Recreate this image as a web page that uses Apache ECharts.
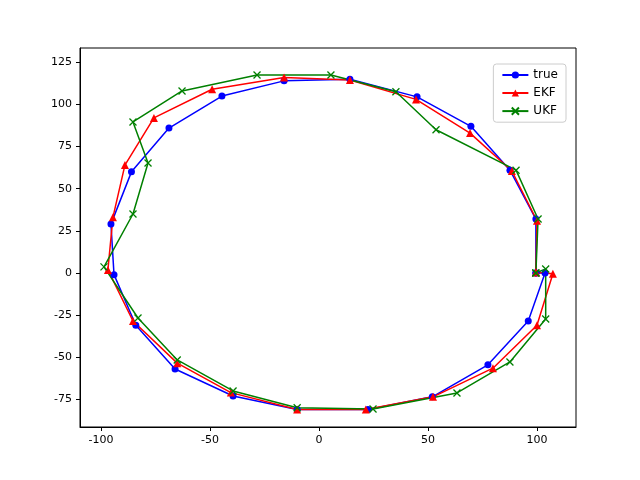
<!DOCTYPE html>
<html><head><meta charset="utf-8">
<script src="https://cdn.jsdelivr.net/npm/echarts@6/dist/echarts.min.js"></script>
<style>html,body{margin:0;background:#fff}#c{width:640px;height:480px}</style>
</head><body><div id="c"></div>
<script>
const trueX=[99.5,99.5,87.6,69.7,45,14.2,-16,-44.5,-68.8,-86,-95.4,-94,-84,-66,-39.4,-10,22.5,52,77.5,96,103.7,99.5];
const trueY=[0,32,61,87,104.5,115,114,105,86,60,29,-1,-31,-57,-73,-81,-81,-73.5,-54.5,-28.5,0,0];
const ekfX=[99.5,100,88.5,69.3,44.5,14.2,-16,-49,-75.7,-89,-94.5,-96.8,-85.3,-65,-40.4,-10,21.5,52.3,79.8,100,107.3,99.5];
const ekfY=[0.5,31,60.5,83,103,114.5,116,109,92,64,33,1.8,-28.5,-53.5,-71,-81,-81,-73.5,-56.5,-31,-0.5,0.5];
const ukfX=[99.5,100.5,90.4,53.7,35.3,5.5,-28.4,-62.8,-85.3,-78.4,-85.3,-98.6,-83,-65,-39.4,-10,24.8,63.3,87.6,104,104,99.5];
const ukfY=[0,32,61,85,107.5,117.5,117.5,108,89.6,65.3,35,3.6,-26.7,-51.6,-70,-80,-80.7,-71.2,-52.8,-27.3,2.4,0];
const zip=(a,b)=>a.map((v,i)=>[v,b[i]]);
const xt=[-100,-50,0,50,100], yt=[-75,-50,-25,0,25,50,75,100,125];
const ax=(cv)=>({axisLine:{onZero:false,lineStyle:{color:'#000'}},axisTick:{lineStyle:{color:'#000'},length:4,customValues:cv},axisLabel:{color:'#000',fontSize:11,fontFamily:'DejaVu Sans',customValues:cv},splitLine:{show:false}});
const mk=(name,d,color,sym,sz,extra)=>({name,type:'line',data:d,symbol:sym,symbolSize:sz,itemStyle:Object.assign({color},extra||{}),lineStyle:{color,width:1.5},animation:false});
echarts.init(document.getElementById('c')).setOption({
 animation:false,
 grid:{left:80,right:64,top:48,bottom:53,show:true,borderColor:'#000',borderWidth:1},
 xAxis:Object.assign({type:'value',min:-109.6,max:117.9},ax(xt)),
 yAxis:Object.assign({type:'value',min:-91.4,max:133.5},ax(yt)),
 legend:{orient:'vertical',right:74,top:64,itemGap:6,itemWidth:26,itemHeight:9,backgroundColor:'#fff',borderColor:'#ccc',borderWidth:1,borderRadius:3,padding:[5,8],textStyle:{fontSize:12,fontFamily:'DejaVu Sans',color:'#000'}},
 series:[mk('true',zip(trueX,trueY),'#0000ff','circle',7),mk('EKF',zip(ekfX,ekfY),'#ff0000','triangle',8),
  mk('UKF',zip(ukfX,ukfY),'#008000','path://M0,0L10,10M10,0L0,10',7,{borderColor:'#008000',borderWidth:1.3,color:'none'})]
});
</script></body></html>
